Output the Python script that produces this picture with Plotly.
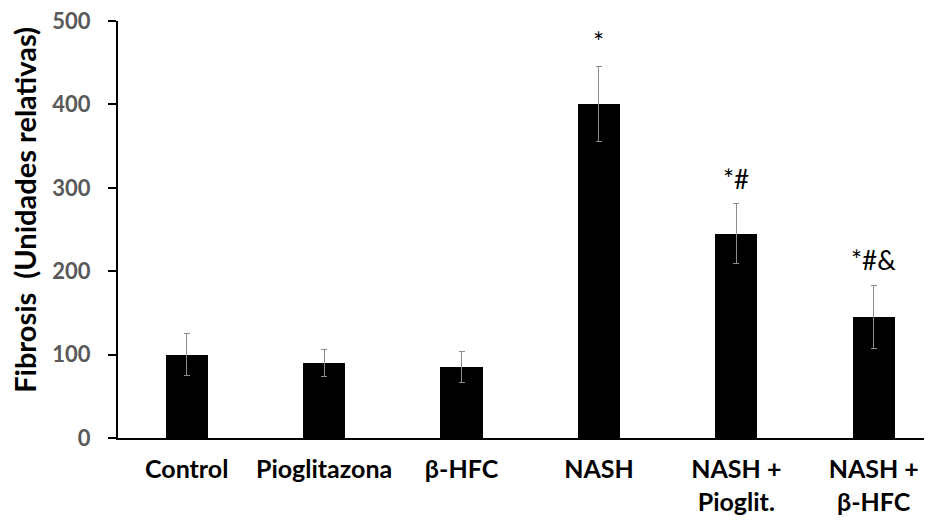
import plotly.graph_objects as go

categories = ["Control", "Pioglitazona", "β-HFC", "NASH", "NASH +<br>Pioglit.", "NASH +<br>β-HFC"]
values = [100, 90, 85, 400, 245, 145]
errors = [25, 16, 19, 45, 36, 38]
marks = ["", "", "", "*", "*#", "*#&"]
y_ticks = [0, 100, 200, 300, 400, 500]
y_title = "Fibrosis  (Unidades relativas)"

FONT = "Lato"
x = list(range(len(categories)))

fig = go.Figure()
fig.add_trace(go.Bar(
    x=x, y=values, width=0.306,
    marker=dict(color="black", line=dict(width=0)),
    error_y=dict(type="data", array=errors, visible=True, color="#8c8c8c", thickness=1, width=3),
))

for xi, v, e, m in zip(x, values, errors, marks):
    if m:
        fig.add_annotation(x=xi, y=v + e, text=m, showarrow=False, yanchor="bottom", yshift=7,
                           font=dict(family=FONT, size=26, color="black"))

fig.add_annotation(xref="paper", yref="paper", x=-0.1143, y=0.547, xanchor="center", yanchor="middle",
                   text=y_title, textangle=-90, showarrow=False,
                   font=dict(family=FONT, size=29, color="black", weight="bold"))

# page body has an 8px default margin; margins compensate for it
fig.update_layout(
    width=932, height=523,
    margin=dict(l=110, r=8, t=13, b=93, autoexpand=False),
    paper_bgcolor="white", plot_bgcolor="white",
    showlegend=False,
    bargap=0,
)
fig.update_xaxes(
    range=[-0.5, 5.424], automargin=False,
    tickmode="array", tickvals=x, ticktext=categories, ticklabelstandoff=8,
    tickfont=dict(family=FONT, size=25, color="black", weight="bold"),
    showline=True, linecolor="black", linewidth=2, ticks="", showgrid=False, zeroline=False,
)
fig.update_yaxes(
    range=[0, 500], automargin=False, tickmode="array", tickvals=y_ticks,
    ticktext=[str(t) for t in y_ticks], ticklabelstandoff=13, ticklabeloverflow="allow",
    tickfont=dict(family=FONT, size=22, color="#595959", weight="bold"),
    showline=True, linecolor="black", linewidth=2, ticks="outside", ticklen=8, tickwidth=2, tickcolor="black",
    showgrid=False, zeroline=False,
)

fig.write_html("out.html")
